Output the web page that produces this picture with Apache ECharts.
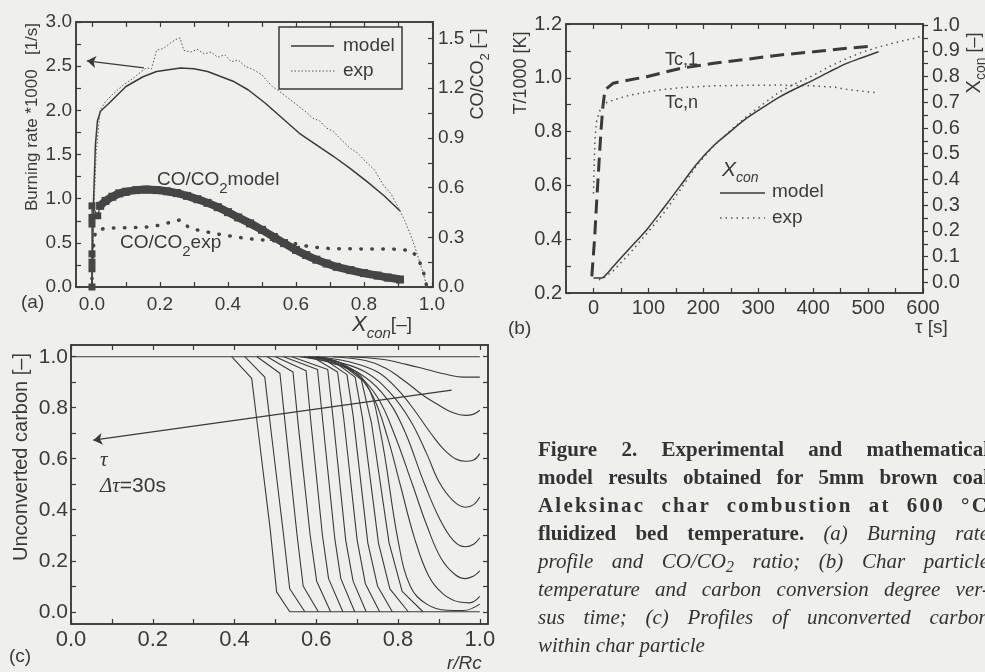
<!DOCTYPE html>
<html>
<head>
<meta charset="utf-8">
<title>Figure 2</title>
<script src="https://cdn.jsdelivr.net/npm/echarts@6.0.0/dist/echarts.min.js"></script>
<style>
  body { margin: 0; background: #efefed; overflow: hidden; }
  #main { width: 985px; height: 672px; }
  .caption { position: absolute; left: 538px; top: 435px; width: 451px; font-family: 'Liberation Serif', serif; font-size: 21px; line-height: 28px; color: #333; }
  .caption div { text-align: justify; text-align-last: justify; }
  .caption div.last { text-align: left; text-align-last: left; }
  .caption .sp { letter-spacing: 2.2px; }
  .caption sub { font-size: 0.75em; line-height: 0; vertical-align: -0.25em; }
</style>
</head>
<body>
<div id="main"></div>
<div class="caption">
  <div><b>Figure 2. Experimental and mathematical</b></div>
  <div><b>model results obtained for 5mm brown coal</b></div>
  <div><b class="sp">Aleksinac char combustion at 600 °C</b></div>
  <div><b>fluidized bed temperature.</b> <i>(a) Burning rate</i></div>
  <div><i>profile and CO/CO<sub>2</sub> ratio; (b) Char particle</i></div>
  <div><i>temperature and carbon conversion degree ver-</i></div>
  <div><i>sus time; (c) Profiles of unconverted carbon</i></div>
  <div class="last"><i>within char particle</i></div>
</div>
<script type="text/javascript">
var ink = '#3a3a3a';
var sans = 'Liberation Sans';

// (a) burning rate *1000 (left) and CO/CO2 (right) vs X_con
var burnModel = [[0.0,0],[0.004,0.9],[0.010,1.6],[0.016,1.88],[0.025,1.99],[0.05,2.08],[0.10,2.27],[0.15,2.38],[0.19,2.44],[0.26,2.48],[0.30,2.47],[0.34,2.44],[0.415,2.33],[0.46,2.23],[0.51,2.08],[0.56,1.91],[0.61,1.74],[0.66,1.61],[0.71,1.48],[0.76,1.34],[0.81,1.19],[0.86,1.03],[0.906,0.86]];
var burnExp = [[0.0,0.0],[0.005,0.8],[0.012,1.5],[0.024,2.0],[0.04,2.1],[0.063,2.19],[0.09,2.28],[0.12,2.36],[0.145,2.44],[0.16,2.48],[0.175,2.47],[0.19,2.68],[0.21,2.70],[0.23,2.76],[0.245,2.80],[0.259,2.82],[0.27,2.68],[0.29,2.66],[0.31,2.69],[0.33,2.64],[0.35,2.66],[0.37,2.60],[0.39,2.63],[0.41,2.55],[0.43,2.57],[0.45,2.50],[0.475,2.46],[0.50,2.40],[0.53,2.27],[0.55,2.22],[0.573,2.15],[0.59,2.10],[0.61,2.04],[0.63,1.98],[0.65,1.91],[0.67,1.88],[0.69,1.80],[0.71,1.76],[0.73,1.68],[0.76,1.57],[0.78,1.52],[0.81,1.40],[0.83,1.33],[0.857,1.155],[0.88,1.05],[0.905,0.87],[0.92,0.75],[0.935,0.61],[0.95,0.45],[0.965,0.27],[0.975,0.15],[0.985,0.0]];
var coModelStart = [[0,0],[0,0.11],[0,0.15],[0,0.2],[0,0.38],[0,0.42],[0,0.49],[0.017,0.43],[0.024,0.49]];
var coModel = [[0.024,0.49],[0.04,0.52],[0.06,0.545],[0.08,0.565],[0.10,0.575],[0.13,0.585],[0.16,0.588],[0.19,0.585],[0.22,0.578],[0.25,0.567],[0.28,0.55],[0.31,0.53],[0.34,0.508],[0.37,0.482],[0.40,0.452],[0.43,0.42],[0.465,0.384],[0.50,0.345],[0.535,0.302],[0.565,0.265],[0.60,0.224],[0.63,0.193],[0.66,0.165],[0.69,0.142],[0.72,0.122],[0.76,0.102],[0.80,0.084],[0.84,0.069],[0.87,0.057],[0.906,0.045]];
var coExp = [[0,0.05],[0.003,0.2],[0.006,0.29],[0.012,0.34],[0.04,0.355],[0.10,0.358],[0.15,0.36],[0.19,0.37],[0.22,0.385],[0.259,0.405],[0.288,0.354],[0.357,0.324],[0.43,0.30],[0.475,0.288],[0.563,0.275],[0.602,0.26],[0.641,0.243],[0.70,0.232],[0.80,0.23],[0.88,0.23],[0.94,0.22],[0.96,0.17],[0.975,0.09],[0.985,0.0]];
var arrowA = [[0.153,2.48],[-0.015,2.56]];
var aXLabels = [0,0.2,0.4,0.6,0.8,1.0];
var aXTicks = [0,0.1,0.2,0.3,0.4,0.5,0.6,0.7,0.8,0.9,1.0];
var aLeftLabels = [0,0.5,1.0,1.5,2.0,2.5,3.0];
var aLeftTicks = [0,0.25,0.5,0.75,1.0,1.25,1.5,1.75,2.0,2.25,2.5,2.75,3.0];
var aRightLabels = [0,0.3,0.6,0.9,1.2,1.5];
var aRightTicks = [0,0.15,0.3,0.45,0.6,0.75,0.9,1.05,1.2,1.35,1.5];

// (b) temperatures (left) and conversion (right) vs time
var tc1 = [[-3,0.262],[2,0.40],[6,0.546],[10,0.68],[13.4,0.794],[17,0.89],[21,0.955],[36,0.98],[60,0.99],[97,1.004],[128,1.02],[158,1.035],[219,1.054],[279,1.069],[340,1.085],[401,1.097],[461,1.11],[510,1.118]];
var tcn = [[0,0.57],[1,0.65],[2,0.72],[3,0.78],[6,0.84],[12,0.88],[21,0.906],[40,0.92],[67,0.936],[100,0.948],[128,0.957],[170,0.965],[219,0.97],[280,0.972],[340,0.973],[400,0.97],[440,0.965],[461,0.957],[513,0.945]];
var xconModel = [[0,0.017],[15,0.017],[25,0.035],[36,0.062],[67,0.135],[97,0.205],[128,0.29],[158,0.375],[188,0.46],[219,0.532],[249,0.586],[279,0.638],[310,0.682],[340,0.722],[370,0.755],[401,0.787],[431,0.82],[461,0.851],[490,0.874],[519,0.896]];
var xconExp = [[10,0.01],[20,0.02],[36,0.045],[67,0.115],[97,0.19],[128,0.27],[158,0.36],[188,0.455],[219,0.53],[249,0.59],[279,0.645],[310,0.695],[340,0.742],[370,0.775],[401,0.805],[431,0.84],[461,0.87],[490,0.895],[522,0.916],[550,0.932],[583,0.948],[600,0.958]];
var bXLabels = [0,100,200,300,400,500,600];
var bXTicks = [0,50,100,150,200,250,300,350,400,450,500,550,600];
var bLeftLabels = [0.2,0.4,0.6,0.8,1.0,1.2];
var bLeftTicks = [0.2,0.3,0.4,0.5,0.6,0.7,0.8,0.9,1.0,1.1,1.2];
var bRightLabels = [0,0.1,0.2,0.3,0.4,0.5,0.6,0.7,0.8,0.9,1.0];
var bRightTicks = [0,0.05,0.1,0.15,0.2,0.25,0.3,0.35,0.4,0.45,0.5,0.55,0.6,0.65,0.7,0.75,0.8,0.85,0.9,0.95,1.0];

// (c) unconverted carbon profiles vs r/Rc, every 30 s
var pFlat = [[0,1.0],[1.0,1.0]];
var pA = [[0.68,1.0],[0.76,0.99],[0.82,0.97],[0.87,0.95],[0.92,0.93],[0.96,0.92],[1.0,0.92]];
var pB = [[0.64,1.0],[0.72,0.985],[0.77,0.955],[0.82,0.90],[0.86,0.85],[0.90,0.81],[0.935,0.78],[0.965,0.77],[0.985,0.775],[1.0,0.79]];
var pC = [[0.60,1.0],[0.68,0.98],[0.75,0.94],[0.80,0.87],[0.84,0.79],[0.88,0.70],[0.91,0.64],[0.94,0.60],[0.965,0.59],[0.985,0.595],[1.0,0.62]];
var pD = [[0.58,1.0],[0.65,0.98],[0.72,0.94],[0.78,0.86],[0.83,0.75],[0.87,0.62],[0.90,0.51],[0.935,0.435],[0.965,0.41],[0.985,0.42],[1.0,0.45]];
var pE = [[0.57,1.0],[0.64,0.975],[0.70,0.94],[0.76,0.86],[0.81,0.73],[0.865,0.50],[0.90,0.37],[0.935,0.28],[0.965,0.255],[0.985,0.265],[1.0,0.29]];
var pF = [[0.57,1.0],[0.64,0.975],[0.70,0.93],[0.75,0.84],[0.79,0.70],[0.835,0.50],[0.87,0.34],[0.905,0.21],[0.94,0.145],[0.965,0.13],[0.985,0.14],[1.0,0.16]];
var pG = [[0.58,1.0],[0.65,0.975],[0.70,0.93],[0.74,0.84],[0.775,0.68],[0.805,0.50],[0.84,0.29],[0.875,0.14],[0.91,0.07],[0.95,0.038],[0.975,0.035],[1.0,0.06]];
var pH = [[0.60,1.0],[0.66,0.975],[0.72,0.90],[0.755,0.72],[0.80,0.28],[0.83,0.10],[0.87,0.03],[0.92,0.006],[0.96,0.005],[1.0,0.03]];
var s11 = [[0.60,1.0],[0.655,0.98],[0.71,0.91],[0.735,0.74],[0.778,0.27],[0.81,0.08],[0.861,0]];
var s10 = [[0.59,1.0],[0.64,0.985],[0.695,0.92],[0.713,0.76],[0.752,0.27],[0.78,0.09],[0.825,0]];
var s09 = [[0.58,1.0],[0.62,0.99],[0.675,0.93],[0.69,0.77],[0.726,0.27],[0.75,0.10],[0.786,0]];
var s08 = [[0.56,1.0],[0.60,0.99],[0.652,0.94],[0.667,0.76],[0.70,0.28],[0.72,0.11],[0.755,0]];
var s07 = [[0.54,1.0],[0.628,0.95],[0.641,0.76],[0.672,0.28],[0.690,0.12],[0.722,0]];
var s06 = [[0.52,1.0],[0.603,0.95],[0.615,0.76],[0.645,0.29],[0.660,0.13],[0.694,0]];
var s05 = [[0.50,1.0],[0.575,0.945],[0.587,0.74],[0.615,0.30],[0.630,0.13],[0.665,0]];
var s04 = [[0.48,1.0],[0.543,0.94],[0.556,0.73],[0.585,0.30],[0.601,0.12],[0.635,0]];
var s03 = [[0.455,1.0],[0.511,0.935],[0.525,0.72],[0.553,0.30],[0.568,0.10],[0.605,0]];
var s02 = [[0.425,1.0],[0.474,0.92],[0.49,0.70],[0.52,0.30],[0.535,0.09],[0.572,0]];
var s01 = [[0.393,1.0],[0.442,0.915],[0.462,0.654],[0.487,0.327],[0.503,0.078],[0.535,0],[1.0,0]];
var smoothProfiles = [pA, pB, pC, pD, pE, pF, pG, pH];
var steepProfiles = [s01, s02, s03, s04, s05, s06, s07, s08, s09, s10, s11];
var arrowC = [[0.931,0.869],[0.0545,0.673]];
var cXLabels = [0,0.2,0.4,0.6,0.8,1.0];
var cXTicks = [0,0.1,0.2,0.3,0.4,0.5,0.6,0.7,0.8,0.9,1.0];
var cYLabels = [0,0.2,0.4,0.6,0.8,1.0];
var cYTicks = [0,0.1,0.2,0.3,0.4,0.5,0.6,0.7,0.8,0.9,1.0];

function fix1(v) { return v.toFixed(1); }

function axis(o) {
  return {
    type: 'value', gridIndex: o.grid, position: o.pos, min: o.min, max: o.max,
    axisLine: { show: true, onZero: false, lineStyle: { color: ink, width: 1.5 } },
    axisTick: { show: true, inside: o.out ? false : true, length: 5, customValues: o.ticks, lineStyle: { color: ink, width: 1.2 } },
    axisLabel: { show: !!o.labels, customValues: o.labels, margin: o.margin || 5, formatter: o.fmt || fix1,
      color: ink, fontSize: o.size || 19, fontFamily: sans },
    splitLine: { show: false }
  };
}

function line(xi, yi, data, lineStyle, extra) {
  return Object.assign({
    type: 'line', xAxisIndex: xi, yAxisIndex: yi, data: data, showSymbol: false, silent: true,
    emphasis: { disabled: true }, animation: false,
    lineStyle: Object.assign({ color: ink, width: 1.2 }, lineStyle)
  }, extra || {});
}

function arrow(pts) {
  return { silent: true, symbol: ['none', 'arrow'], symbolSize: 9, label: { show: false }, animation: false,
    lineStyle: { color: ink, width: 1.3, type: 'solid' }, emphasis: { disabled: true },
    data: [[{ coord: pts[0] }, { coord: pts[1] }]] };
}

function text(x, y, str, size, extra) {
  var st = Object.assign({ text: str, fontSize: size, fontFamily: sans, fill: ink, align: 'left', verticalAlign: 'middle' }, extra && extra.style);
  var el = { type: 'text', x: x, y: y, z: 100, style: st };
  if (extra && extra.rotation) el.rotation = extra.rotation;
  return el;
}

var sub = function (size, lh) { return { fontSize: size, lineHeight: lh, verticalAlign: 'bottom' }; };
var up = Math.PI / 2;

var series = [
  line(0, 0, burnModel, { width: 1.5 }, { markLine: arrow(arrowA) }),
  line(0, 0, burnExp, { width: 1, type: [1.5, 2], color: '#555' }),
  line(0, 1, coModelStart, { width: 1.2 }, { showSymbol: true, symbol: 'rect', symbolSize: 7, itemStyle: { color: '#454545' } }),
  line(0, 1, coModel, { width: 8, color: '#454545' }, { smooth: 0.3, showSymbol: true, symbol: 'rect', symbolSize: 8, itemStyle: { color: '#454545' } }),
  line(0, 1, coExp, { width: 3.5, type: [0.5, 10.5], cap: 'round', color: '#444' }),
  line(2, 2, tc1, { width: 3, type: [14, 7] }),
  line(2, 2, tcn, { width: 1.5, type: [1.5, 4], color: '#555' }),
  line(2, 3, xconModel, { width: 1.5 }, { smooth: 0.3 }),
  line(2, 3, xconExp, { width: 1.5, type: [1.5, 4], color: '#555' }),
  line(4, 4, pFlat, { width: 1.1 }, { markLine: arrow(arrowC) })
];
smoothProfiles.forEach(function (p) { series.push(line(4, 4, p, { width: 1.1 }, { smooth: 0.4 })); });
steepProfiles.forEach(function (p) { series.push(line(4, 4, p, { width: 1.1 })); });

var graphic = [
  // (a) texts and legend
  text(21, 303, '(a)', 19),
  text(32, 117, 'Burning rate *1000   [1/s]', 17, { rotation: up, style: { align: 'center' } }),
  text(478, 74, 'CO/CO{s|2} [–]', 18, { rotation: up, style: { align: 'center', rich: { s: sub(13, 28) } } }),
  text(352, 325, '{x|X}{c|con}[–]', 19, { style: { rich: { x: { fontSize: 22, fontStyle: 'italic' }, c: { fontSize: 15, fontStyle: 'italic', lineHeight: 33, verticalAlign: 'bottom' } } } }),
  text(157, 180, 'CO/CO{s|2}model', 19, { style: { rich: { s: sub(15, 32) } } }),
  text(120, 243, 'CO/CO{s|2}exp', 19, { style: { rich: { s: sub(15, 32) } } }),
  { type: 'rect', z: 90, shape: { x: 279, y: 27, width: 123, height: 62 }, style: { fill: '#efefed', stroke: ink, lineWidth: 1.5 } },
  { type: 'line', z: 100, shape: { x1: 291, y1: 46, x2: 334, y2: 46 }, style: { stroke: ink, lineWidth: 1.5 } },
  text(343, 46, 'model', 19),
  { type: 'line', z: 100, shape: { x1: 291, y1: 71, x2: 336, y2: 71 }, style: { stroke: '#555', lineWidth: 1, lineDash: [1.5, 2] } },
  text(343, 71, 'exp', 19),
  // (b)
  text(508, 329, '(b)', 19),
  text(915, 328, 'τ [s]', 19),
  text(521, 73, 'T/1000 [K]', 18, { rotation: up, style: { align: 'center' } }),
  text(974, 63, '{x|X}{c|con} [–]', 18, { rotation: up, style: { align: 'center', rich: { x: { fontSize: 20 }, c: { fontSize: 14, lineHeight: 29, verticalAlign: 'bottom' } } } }),
  text(665, 60, 'Tc,1', 18),
  text(665, 103, 'Tc,n', 18),
  text(722, 170, '{x|X}{c|con}', 18, { style: { rich: { x: { fontSize: 21, fontStyle: 'italic' }, c: { fontSize: 14, fontStyle: 'italic', lineHeight: 31, verticalAlign: 'bottom' } } } }),
  { type: 'line', z: 100, shape: { x1: 720, y1: 193, x2: 765, y2: 193 }, style: { stroke: ink, lineWidth: 1.5 } },
  text(772, 192, 'model', 19),
  { type: 'line', z: 100, shape: { x1: 720, y1: 218, x2: 765, y2: 218 }, style: { stroke: '#555', lineWidth: 1.5, lineDash: [1.5, 4] } },
  text(772, 218, 'exp', 19),
  // (c)
  text(9, 657, '(c)', 19),
  text(447, 664, 'r/Rc', 19, { style: { fontStyle: 'italic' } }),
  text(21, 457, 'Unconverted carbon [–]', 20, { rotation: up, style: { align: 'center' } }),
  text(100, 460, 'τ', 21, { style: { fontFamily: 'Liberation Serif', fontStyle: 'italic' } }),
  text(100, 486, '{i|Δτ}=30s', 21, { style: { rich: { i: { fontFamily: 'Liberation Serif', fontStyle: 'italic', fontSize: 21 } } } })
];

var option = {
  animation: false,
  backgroundColor: '#efefed',
  grid: [
    { left: 76, top: 22, width: 357, height: 265, show: true, borderColor: ink, borderWidth: 1.5, backgroundColor: 'transparent' },
    { left: 566, top: 24, width: 357, height: 269, show: true, borderColor: ink, borderWidth: 1.5, backgroundColor: 'transparent' },
    { left: 71, top: 345, width: 417, height: 279, show: true, borderColor: ink, borderWidth: 1.5, backgroundColor: 'transparent' }
  ],
  xAxis: [
    axis({ grid: 0, pos: 'bottom', min: -0.047, max: 1.003, labels: aXLabels, ticks: aXTicks, margin: 8 }),
    axis({ grid: 0, pos: 'top', min: -0.047, max: 1.003, ticks: aXTicks }),
    axis({ grid: 1, pos: 'bottom', min: -50, max: 600, labels: bXLabels, ticks: bXTicks, margin: 5, fmt: String, size: 20 }),
    axis({ grid: 1, pos: 'top', min: -50, max: 600, ticks: bXTicks }),
    axis({ grid: 2, pos: 'bottom', min: 0, max: 1.02, labels: cXLabels, ticks: cXTicks, margin: 5, size: 22 }),
    axis({ grid: 2, pos: 'top', min: 0, max: 1.02, ticks: cXTicks })
  ],
  yAxis: [
    axis({ grid: 0, pos: 'left', min: 0, max: 3, labels: aLeftLabels, ticks: aLeftTicks, margin: 4 }),
    axis({ grid: 0, pos: 'right', min: 0, max: 1.6, labels: aRightLabels, ticks: aRightTicks, margin: 5 }),
    axis({ grid: 1, pos: 'left', min: 0.2, max: 1.2, labels: bLeftLabels, ticks: bLeftTicks, margin: 4, size: 20 }),
    axis({ grid: 1, pos: 'right', min: -0.041, max: 1.004, labels: bRightLabels, ticks: bRightTicks, margin: 9, out: true, size: 20 }),
    axis({ grid: 2, pos: 'left', min: -0.048, max: 1.046, labels: cYLabels, ticks: cYTicks, margin: 3, size: 21 }),
    axis({ grid: 2, pos: 'right', min: -0.048, max: 1.046, ticks: cYTicks })
  ],
  series: series,
  graphic: graphic
};

var myChart = echarts.init(document.getElementById('main'));
myChart.setOption(option);
</script>
</body>
</html>
